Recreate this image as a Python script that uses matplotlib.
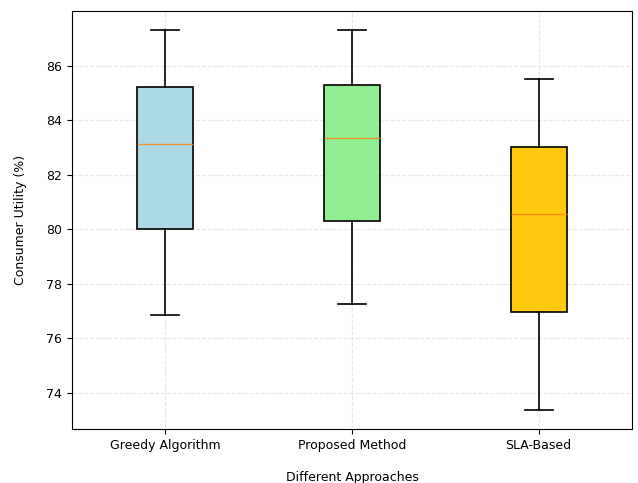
#consumer utility boxplot

from matplotlib import pyplot as plt

approaches = ['Greedy Algorithm', 'Proposed Method', 'SLA-Based']
whisker_low = [76.85, 77.25, 73.38]
q1 = [80.0, 80.29, 76.96]
median = [83.11, 83.35, 80.55]
q3 = [85.2, 85.3, 83.0]
whisker_high = [87.3, 87.3, 85.49]
colors = ['lightblue', 'lightgreen', '#ffc90e']

stats = []
for i in range(len(approaches)): #build the box stats for bxp
    stats.append({'label': approaches[i], 'whislo': whisker_low[i], 'q1': q1[i],
                  'med': median[i], 'q3': q3[i], 'whishi': whisker_high[i], 'fliers': []})

plt.rcParams['font.size'] = 9
fig, ax = plt.subplots(figsize=(6.38, 4.83), dpi=100)
fig.subplots_adjust(left=0.113, right=0.9906, top=0.977, bottom=0.112)

bp = ax.bxp(stats, widths=0.3, patch_artist=True, showfliers=False,
            boxprops=dict(linewidth=1.2), whiskerprops=dict(linewidth=1.2),
            capprops=dict(linewidth=1.2))
for patch, c in zip(bp['boxes'], colors):
    patch.set_facecolor(c)
    patch.set_edgecolor('black')
for m in bp['medians']:
    m.set_color('#ff7f0e')
    m.set_alpha(0.8)

ax.grid(True, linestyle='--', alpha=0.3)
ax.set_xlabel('Different Approaches', labelpad=14)
ax.set_ylabel('Consumer Utility (%)', labelpad=14)

plt.savefig('out.png')
